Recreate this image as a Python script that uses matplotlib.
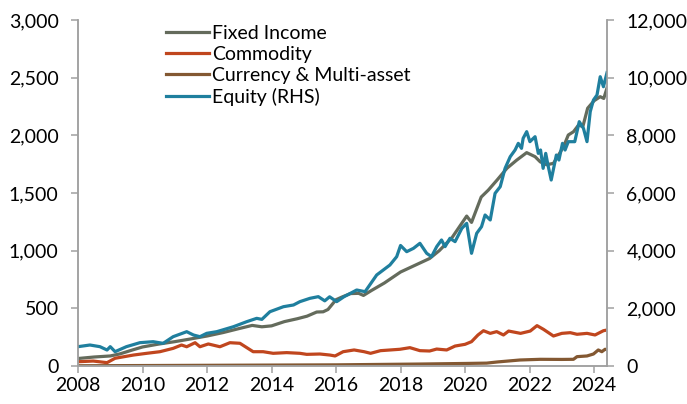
import matplotlib.pyplot as plt
from matplotlib.ticker import FuncFormatter

# values (left axis unless noted)
fi_years = [2008.0, 2008.5, 2009.0, 2009.3, 2009.7, 2010.0, 2010.5, 2011.0, 2011.5, 2012.0,
            2012.5, 2013.0, 2013.4, 2013.7, 2014.0, 2014.4, 2014.8, 2015.1, 2015.4, 2015.6,
            2015.75, 2016.0, 2016.2, 2016.45, 2016.7, 2016.85, 2017.1, 2017.5, 2018.0, 2018.5,
            2018.9, 2019.2, 2019.6, 2020.05, 2020.2, 2020.5, 2020.72, 2021.0, 2021.3, 2021.6,
            2021.91, 2022.17, 2022.33, 2022.53, 2022.74, 2023.05, 2023.2, 2023.36, 2023.52, 2023.65,
            2023.8, 2024.0, 2024.19, 2024.3, 2024.4]
fi_vals = [65, 78, 87, 105, 140, 165, 190, 211, 235, 260,
           290, 325, 352, 340, 348, 385, 410, 432, 468, 470,
           490, 575, 600, 628, 630, 612, 655, 720, 815, 880,
           932, 1000, 1115, 1300, 1245, 1465, 1525, 1615, 1715, 1785,
           1850, 1815, 1770, 1745, 1757, 1900, 2003, 2031, 2090, 2075,
           2235, 2300, 2335, 2320, 2410]

com_years = [2008.0, 2008.47, 2008.9, 2009.15, 2009.72, 2010.13, 2010.54, 2010.95, 2011.21, 2011.37,
             2011.63, 2011.78, 2012.04, 2012.4, 2012.71, 2013.02, 2013.43, 2013.74, 2014.05, 2014.47,
             2014.88, 2015.09, 2015.5, 2015.81, 2015.97, 2016.22, 2016.56, 2016.87, 2017.07, 2017.38,
             2017.98, 2018.29, 2018.6, 2018.9, 2019.12, 2019.43, 2019.69, 2020.0, 2020.2, 2020.4,
             2020.57, 2020.78, 2020.98, 2021.19, 2021.35, 2021.72, 2022.02, 2022.23, 2022.43, 2022.74,
             2023.0, 2023.26, 2023.47, 2023.78, 2024.03, 2024.29, 2024.4]
com_vals = [37, 43, 29, 67, 95, 110, 124, 153, 182, 167,
            202, 167, 191, 167, 202, 197, 124, 124, 110, 116,
            110, 101, 104, 95, 87, 124, 139, 124, 110, 133,
            145, 159, 133, 130, 147, 139, 173, 188, 211, 269,
            306, 283, 298, 269, 303, 283, 303, 350, 318, 260,
            283, 289, 275, 283, 269, 306, 312]

cur_years = [2008.0, 2010.0, 2012.0, 2014.0, 2016.0, 2018.6, 2020.0, 2020.67, 2021.0, 2021.7,
             2022.33, 2023.0, 2023.36, 2023.47, 2023.78, 2023.98, 2024.13, 2024.24, 2024.34, 2024.4]
cur_vals = [2, 4, 6, 8, 10, 17, 22, 25, 35, 52,
            58, 57, 58, 81, 87, 104, 139, 124, 145, 142]

# Equity, right-hand axis
eq_years = [2008.0, 2008.37, 2008.68, 2008.9, 2009.0, 2009.15, 2009.5, 2009.92, 2010.33, 2010.64,
            2010.95, 2011.37, 2011.58, 2011.78, 2011.99, 2012.3, 2012.82, 2013.23, 2013.54, 2013.7,
            2013.95, 2014.37, 2014.68, 2014.88, 2015.19, 2015.45, 2015.65, 2015.8, 2016.02, 2016.25,
            2016.64, 2016.9, 2017.26, 2017.67, 2017.88, 2018.0, 2018.19, 2018.4, 2018.6, 2018.81,
            2018.96, 2019.12, 2019.27, 2019.38, 2019.53, 2019.69, 2019.9, 2020.05, 2020.2, 2020.36,
            2020.51, 2020.62, 2020.78, 2020.93, 2021.09, 2021.24, 2021.4, 2021.55, 2021.65, 2021.75,
            2021.8, 2021.91, 2022.01, 2022.17, 2022.27, 2022.34, 2022.42, 2022.5, 2022.57, 2022.67,
            2022.83, 2022.91, 2023.02, 2023.1, 2023.2, 2023.4, 2023.54, 2023.67, 2023.78, 2023.88,
            2023.98, 2024.09, 2024.19, 2024.29, 2024.4]
eq_vals = [670, 728, 670, 555, 670, 497, 670, 809, 843, 786,
           1017, 1190, 1075, 1017, 1133, 1190, 1363, 1537, 1653, 1617,
           1883, 2057, 2116, 2232, 2347, 2405, 2260, 2400, 2232, 2405,
           2636, 2578, 3157, 3503, 3792, 4180, 3965, 4081, 4255, 3908,
           3792, 4139, 4371, 4139, 4428, 4313, 4775, 4948, 3908, 4601,
           4832, 5237, 5064, 5989, 6220, 6855, 7259, 7491, 7722, 7549,
           7896, 8127, 7780, 7953, 7375, 7491, 6855, 7375, 6970, 6450,
           7317, 7144, 7722, 7491, 7780, 7780, 8474, 8243, 7780, 8820,
           9225, 9398, 10033, 9686, 10174]

year_ticks = [2008, 2010, 2012, 2014, 2016, 2018, 2020, 2022, 2024]

plt.rcParams['font.family'] = ['Lato', 'DejaVu Sans']
plt.rcParams['font.size'] = 14

fig = plt.figure(figsize=(6.87, 4.04), dpi=100)
ax = fig.add_axes([78 / 687, 1 - 366 / 404, (607 - 78) / 687, (366 - 20) / 404])
ax2 = ax.twinx()

lw = 2.3
l1, = ax.plot(fi_years, fi_vals, color='#646b5c', lw=lw, label='Fixed Income')
l2, = ax.plot(com_years, com_vals, color='#c0461e', lw=lw, label='Commodity')
l3, = ax.plot(cur_years, cur_vals, color='#835832', lw=lw, label='Currency & Multi-asset')
l4, = ax2.plot(eq_years, eq_vals, color='#1f7f9e', lw=lw, label='Equity (RHS)')

ax.set_xlim(2008, 2024.4)
ax.set_ylim(0, 3000)
ax2.set_ylim(0, 12000)
ax.set_xticks(year_ticks)
ax.set_yticks(range(0, 3001, 500))
ax2.set_yticks(range(0, 12001, 2000))

fmt = FuncFormatter(lambda v, p: f'{int(v):,}')
ax.yaxis.set_major_formatter(fmt)
ax2.yaxis.set_major_formatter(fmt)

for a in (ax, ax2):
    for s in a.spines.values():
        s.set_color('#a0a0a0')
        s.set_linewidth(1.1)
    a.spines['top'].set_visible(False)
    a.tick_params(color='#a0a0a0', width=1.1, length=5)
ax.tick_params(axis='y', pad=9)
ax2.tick_params(axis='y', pad=9)
ax.tick_params(axis='x', pad=3)

fig.legend(handles=[l1, l2, l3, l4], loc='upper left',
           bbox_to_anchor=(166 / 687, 1 - 25 / 404), bbox_transform=fig.transFigure,
           frameon=False, borderpad=0, borderaxespad=0, handlelength=2.2,
           handletextpad=0.15, labelspacing=0.2)

fig.savefig('out.png', dpi=100)
